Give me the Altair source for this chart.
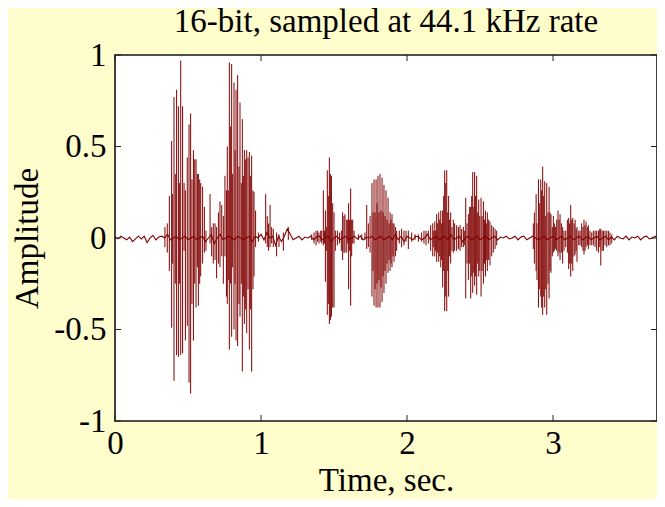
import altair as alt
import pandas as pd

TITLE = "16-bit, sampled at 44.1 kHz rate"
X_TITLE = "Time, sec."
Y_TITLE = "Amplitude"
X_TICKS = [0, 1, 2, 3]
Y_TICKS = [-1, -0.5, 0, 0.5, 1]
X_MAX = 3.712

# vertical excursions of the waveform (time, top, bottom)
SPIKE_T = [
    0.342, 0.358, 0.372, 0.388, 0.395, 0.404, 0.413, 0.422, 0.434, 0.441,
    0.450, 0.463, 0.473, 0.482, 0.495, 0.507, 0.518, 0.527, 0.537, 0.546,
    0.555, 0.564, 0.571, 0.580, 0.587, 0.600, 0.612, 0.623,
    0.651, 0.662, 0.673, 0.685, 0.696, 0.708, 0.719, 0.731, 0.742,
    0.753, 0.763, 0.769, 0.776, 0.783, 0.792, 0.799, 0.806, 0.815, 0.822,
    0.829, 0.840, 0.849, 0.856, 0.865, 0.872, 0.879, 0.886, 0.895, 0.902,
    0.911, 0.920, 0.927, 0.936, 0.945, 0.952, 0.963, 0.982,
    1.032, 1.043, 1.052, 1.062, 1.073, 1.084, 1.107, 1.123, 1.153, 1.187,
    1.347, 1.363, 1.377, 1.388, 1.397, 1.409, 1.416, 1.427, 1.434, 1.441,
    1.447, 1.454, 1.461, 1.468, 1.475, 1.482, 1.491, 1.500, 1.509, 1.523,
    1.537, 1.550, 1.559, 1.568, 1.575, 1.587, 1.594, 1.600, 1.607, 1.614,
    1.621, 1.628, 1.637, 1.667, 1.690, 1.712,
    1.724, 1.735, 1.747, 1.760, 1.767, 1.774, 1.781, 1.788, 1.795, 1.801,
    1.808, 1.815, 1.822, 1.829, 1.836, 1.842, 1.849, 1.856, 1.863, 1.870,
    1.877, 1.884, 1.890, 1.897, 1.904, 1.911, 1.920, 1.929, 1.947, 1.963,
    1.979, 1.993, 2.009, 2.032, 2.055, 2.078, 2.100, 2.116, 2.130,
    2.146, 2.162, 2.176, 2.183, 2.190, 2.196, 2.203, 2.210, 2.217, 2.224,
    2.231, 2.237, 2.244, 2.251, 2.258, 2.265, 2.272, 2.279, 2.285, 2.292,
    2.299, 2.308, 2.317, 2.326, 2.340, 2.352, 2.363, 2.374, 2.386, 2.395,
    2.402, 2.411, 2.420, 2.429, 2.436, 2.443, 2.450, 2.457, 2.463, 2.470,
    2.477, 2.484, 2.491, 2.498, 2.507, 2.514, 2.523, 2.530, 2.537, 2.543,
    2.550, 2.559, 2.568, 2.580, 2.591, 2.603, 2.614,
    2.865, 2.872, 2.884, 2.890, 2.900, 2.906, 2.916, 2.922, 2.929, 2.936,
    2.943, 2.950, 2.957, 2.966, 2.973, 2.979, 2.986, 2.995, 3.002, 3.009,
    3.016, 3.025, 3.034, 3.041, 3.048, 3.057, 3.066, 3.075, 3.087, 3.098,
    3.107, 3.114, 3.121, 3.128, 3.135, 3.144, 3.151, 3.158, 3.164, 3.176,
    3.185, 3.196, 3.205, 3.212, 3.219, 3.226, 3.235, 3.242, 3.253, 3.265,
    3.276, 3.288, 3.299, 3.311, 3.320, 3.327, 3.336, 3.345, 3.356, 3.368,
    3.379, 3.390, 3.402,
]
SPIKE_HI = [
    0.06, 0.08, 0.23, 0.53, 0.24, 0.77, 0.35, 0.81, 0.72, 0.30,
    0.97, 0.72, 0.30, 0.26, 0.44, 0.62, 0.68, 0.32, 0.48, 0.43,
    0.43, 0.35, 0.35, 0.32, 0.30, 0.28, 0.17, 0.04,
    0.24, 0.06, 0.08, 0.08, 0.06, 0.14, 0.20, 0.18, 0.12,
    0.34, 0.26, 0.50, 0.26, 0.96, 0.61, 0.95, 0.35, 0.85, 0.48,
    0.81, 0.89, 0.39, 0.74, 0.30, 0.65, 0.34, 0.48, 0.43, 0.48,
    0.44, 0.47, 0.34, 0.45, 0.26, 0.25, 0.15, 0.03,
    0.24, 0.12, 0.08, 0.18, 0.06, 0.05, 0.03, 0.02, 0.03, 0.06,
    0.02, 0.03, 0.04, 0.04, 0.03, 0.04, 0.04, 0.26, 0.04, 0.15,
    0.06, 0.37, 0.23, 0.44, 0.35, 0.34, 0.19, 0.14, 0.04, 0.04,
    0.03, 0.04, 0.14, 0.12, 0.13, 0.10, 0.10, 0.19, 0.10, 0.27,
    0.10, 0.10, 0.04, 0.02, 0.02, 0.03,
    0.18, 0.08, 0.12, 0.30, 0.14, 0.32, 0.14, 0.32, 0.19, 0.34,
    0.14, 0.35, 0.15, 0.33, 0.14, 0.29, 0.12, 0.26, 0.10, 0.22,
    0.08, 0.14, 0.10, 0.13, 0.08, 0.08, 0.06, 0.04, 0.04, 0.05,
    0.04, 0.04, 0.04, 0.03, 0.02, 0.02, 0.03, 0.04, 0.04,
    0.04, 0.07, 0.08, 0.04, 0.09, 0.04, 0.13, 0.08, 0.14, 0.10,
    0.15, 0.08, 0.15, 0.23, 0.37, 0.30, 0.37, 0.14, 0.23, 0.10,
    0.14, 0.06, 0.10, 0.08, 0.07, 0.06, 0.07, 0.05, 0.06, 0.04,
    0.22, 0.08, 0.13, 0.17, 0.17, 0.23, 0.36, 0.17, 0.36, 0.23,
    0.34, 0.14, 0.21, 0.12, 0.22, 0.12, 0.20, 0.10, 0.15, 0.08,
    0.14, 0.10, 0.09, 0.07, 0.06, 0.05, 0.04,
    0.08, 0.14, 0.24, 0.08, 0.32, 0.19, 0.32, 0.26, 0.39, 0.23,
    0.31, 0.12, 0.30, 0.14, 0.28, 0.14, 0.13, 0.06, 0.12, 0.08,
    0.06, 0.10, 0.15, 0.10, 0.13, 0.08, 0.06, 0.04, 0.04, 0.10,
    0.11, 0.08, 0.18, 0.10, 0.11, 0.08, 0.10, 0.05, 0.06, 0.04,
    0.04, 0.08, 0.06, 0.10, 0.07, 0.09, 0.06, 0.07, 0.04, 0.03,
    0.04, 0.04, 0.04, 0.04, 0.05, 0.05, 0.04, 0.04, 0.04, 0.04,
    0.04, 0.03, 0.02,
]
SPIKE_LO = [
    -0.05, -0.08, -0.18, -0.49, -0.14, -0.78, -0.25, -0.64, -0.65, -0.25,
    -0.64, -0.63, -0.07, -0.56, -0.48, -0.79, -0.85, -0.36, -0.56, -0.25,
    -0.38, -0.16, -0.37, -0.25, -0.21, -0.14, -0.08, -0.07,
    -0.03, -0.10, -0.14, -0.12, -0.22, -0.14, -0.16, -0.10, -0.25,
    -0.10, -0.32, -0.36, -0.23, -0.61, -0.25, -0.54, -0.16, -0.50, -0.25,
    -0.56, -0.59, -0.36, -0.43, -0.25, -0.73, -0.32, -0.47, -0.39, -0.52,
    -0.28, -0.61, -0.39, -0.73, -0.28, -0.21, -0.05, -0.02,
    -0.03, -0.05, -0.07, -0.05, -0.03, -0.05, -0.10, -0.05, -0.07, -0.01,
    -0.01, -0.03, -0.04, -0.02, -0.03, -0.02, -0.03, -0.04, -0.03, -0.24,
    -0.07, -0.42, -0.36, -0.47, -0.45, -0.43, -0.38, -0.38, -0.07, -0.04,
    -0.03, -0.07, -0.12, -0.08, -0.08, -0.08, -0.03, -0.28, -0.07, -0.37,
    -0.10, -0.03, -0.03, -0.01, -0.01, -0.01,
    -0.06, -0.05, -0.08, -0.32, -0.18, -0.37, -0.28, -0.38, -0.25, -0.38,
    -0.23, -0.38, -0.27, -0.35, -0.21, -0.30, -0.18, -0.25, -0.14, -0.19,
    -0.12, -0.18, -0.14, -0.16, -0.10, -0.13, -0.10, -0.07, -0.03, -0.05,
    -0.04, -0.02, -0.06, -0.02, -0.01, -0.02, -0.02, -0.03, -0.04,
    -0.03, -0.07, -0.10, -0.05, -0.10, -0.07, -0.13, -0.08, -0.13, -0.10,
    -0.16, -0.12, -0.27, -0.18, -0.40, -0.32, -0.40, -0.18, -0.32, -0.10,
    -0.14, -0.07, -0.08, -0.07, -0.07, -0.06, -0.07, -0.05, -0.05, -0.04,
    -0.33, -0.14, -0.23, -0.14, -0.33, -0.21, -0.30, -0.19, -0.26, -0.21,
    -0.31, -0.14, -0.21, -0.18, -0.32, -0.18, -0.25, -0.14, -0.21, -0.12,
    -0.18, -0.12, -0.15, -0.10, -0.08, -0.06, -0.04,
    -0.06, -0.14, -0.18, -0.23, -0.38, -0.28, -0.32, -0.38, -0.42, -0.32,
    -0.38, -0.28, -0.42, -0.25, -0.33, -0.18, -0.19, -0.10, -0.08, -0.07,
    -0.06, -0.07, -0.10, -0.08, -0.12, -0.08, -0.14, -0.07, -0.05, -0.08,
    -0.17, -0.14, -0.21, -0.14, -0.18, -0.10, -0.09, -0.07, -0.13, -0.04,
    -0.04, -0.05, -0.07, -0.09, -0.07, -0.05, -0.04, -0.06, -0.04, -0.04,
    -0.04, -0.05, -0.07, -0.08, -0.05, -0.15, -0.07, -0.07, -0.04, -0.05,
    -0.04, -0.04, -0.03,
]

# low-level background wiggle, one value every 0.02 s
NOISE_STEP = 0.02
NOISE_A = [
    0.005, -0.005, 0.01, 0.0, -0.01, 0.005, -0.02, -0.005, 0.01, -0.005,
    0.01, -0.025, 0.0, 0.015, -0.01, 0.005, 0.01, 0.0, 0.02, -0.01,
    0.0, 0.01, -0.01, 0.0, 0.01, -0.01, 0.0, 0.01, -0.01, 0.0,
    0.01, -0.02, 0.0, 0.02, -0.03, 0.0, 0.02, -0.01, 0.0, 0.01,
    0.0, -0.01, 0.01, 0.0, -0.01, 0.0, 0.01, -0.02, 0.01, 0.0,
    0.02, -0.01, 0.03, 0.0, 0.01, -0.04, 0.01, -0.02, 0.01, 0.05,
    0.02, -0.01, 0.0, 0.01, -0.01, 0.005, 0.0, 0.01, -0.01, 0.005,
    0.01, -0.01, 0.0, 0.01, -0.02, 0.0, 0.01, -0.01, 0.0, 0.01,
    -0.01, 0.0, 0.01, -0.005, 0.01, -0.01, 0.005, 0.0, 0.01, -0.01,
    0.0, 0.01, -0.01, 0.0, 0.01, -0.01, 0.02, -0.01, 0.01, -0.02,
    0.01, 0.0, -0.01, 0.01, 0.005, -0.01, 0.0, 0.02, -0.01, 0.0,
    0.01, -0.01, 0.0, 0.01, -0.01, 0.02, -0.01, 0.0, 0.01, -0.02,
    0.0, 0.01, -0.01, 0.0, 0.01, -0.01, 0.0, 0.01, -0.01, 0.0,
    0.01, -0.01, 0.005, 0.0, 0.01, -0.005, 0.0, 0.01, -0.01, 0.005,
    0.01, -0.01, 0.0, 0.01, 0.0, -0.01, 0.0, 0.01, -0.01, 0.0,
    0.01, -0.01, 0.0, 0.01, -0.01, 0.0, 0.01, -0.01, 0.0, 0.01,
    -0.01, 0.0, 0.01, -0.01, 0.0, 0.01, -0.01, 0.0, 0.01, -0.01,
    0.005, -0.01, 0.01, 0.0, -0.005, 0.01, -0.01, 0.005, 0.0, 0.01,
    -0.01, 0.005, 0.01, -0.005, 0.0, 0.01, -0.01,
]

W, H = 542, 366
FONT = "Liberation Serif"
FS = 33
WAVE = "#800000"
BG = "#FFFDCC"

spikes = pd.DataFrame(
    [{"t": t, "hi": h, "lo": l} for t, h, l in zip(SPIKE_T, SPIKE_HI, SPIKE_LO)]
)
noise = pd.DataFrame(
    {"t": [round(i * NOISE_STEP, 3) for i in range(len(NOISE_A))], "a": NOISE_A}
)
xt = pd.DataFrame({"v": X_TICKS})
yt = pd.DataFrame({"v": Y_TICKS})

xs = alt.Scale(domain=[0, X_MAX], nice=False, zero=False)
ys = alt.Scale(domain=[-1, 1], nice=False)

x_axis = alt.Axis(
    values=X_TICKS, grid=False, domain=False, ticks=False,
    labelFont=FONT, labelFontSize=FS, labelColor="black", labelPadding=6,
    labelFlush=False,
    title=X_TITLE, titleFont=FONT, titleFontSize=FS, titleFontWeight="normal",
    titleColor="black", titlePadding=4,
)
y_axis = alt.Axis(
    values=Y_TICKS, grid=False, domain=False, ticks=False,
    labelExpr="'' + datum.value",
    labelFont=FONT, labelFontSize=FS, labelColor="black", labelPadding=9,
    labelFlush=False,
    title=Y_TITLE, titleFont=FONT, titleFontSize=FS, titleFontWeight="normal",
    titleColor="black", titlePadding=9,
)

base_line = alt.Chart(noise).mark_line(color=WAVE, strokeWidth=1.1).encode(
    x=alt.X("t:Q", scale=xs, axis=x_axis),
    y=alt.Y("a:Q", scale=ys, axis=y_axis),
)
spike_rules = alt.Chart(spikes).mark_rule(color=WAVE, strokeWidth=1.0).encode(
    x=alt.X("t:Q", scale=xs, axis=x_axis),
    y=alt.Y("lo:Q", scale=ys, axis=y_axis),
    y2="hi:Q",
)
TICK = "#222222"
tick_bottom = alt.Chart(xt).mark_rule(color=TICK, strokeWidth=1).encode(
    x=alt.X("v:Q", scale=xs, axis=x_axis), y=alt.value(H), y2=alt.value(H - 6)
)
tick_top = alt.Chart(xt).mark_rule(color=TICK, strokeWidth=1).encode(
    x=alt.X("v:Q", scale=xs, axis=x_axis), y=alt.value(0), y2=alt.value(6)
)
tick_left = alt.Chart(yt).mark_rule(color=TICK, strokeWidth=1).encode(
    y=alt.Y("v:Q", scale=ys, axis=y_axis), x=alt.value(0), x2=alt.value(6)
)
tick_right = alt.Chart(yt).mark_rule(color=TICK, strokeWidth=1).encode(
    y=alt.Y("v:Q", scale=ys, axis=y_axis), x=alt.value(W), x2=alt.value(W - 6)
)

chart = (
    alt.layer(base_line, spike_rules, tick_bottom, tick_top, tick_left, tick_right)
    .properties(
        width=W,
        height=H,
        title=alt.TitleParams(
            text=TITLE, font=FONT, fontSize=FS, fontWeight="normal",
            color="black", anchor="middle", frame="group", offset=0,
        ),
        autosize=alt.AutoSizeParams(type="none"),
        padding={"left": 107, "top": 47, "right": 0, "bottom": 78},
        background=BG,
    )
    .configure_view(stroke="#141414", strokeWidth=1.6, fill="white")
)

chart.save("out.html", embed_options={"renderer": "svg", "actions": False})
